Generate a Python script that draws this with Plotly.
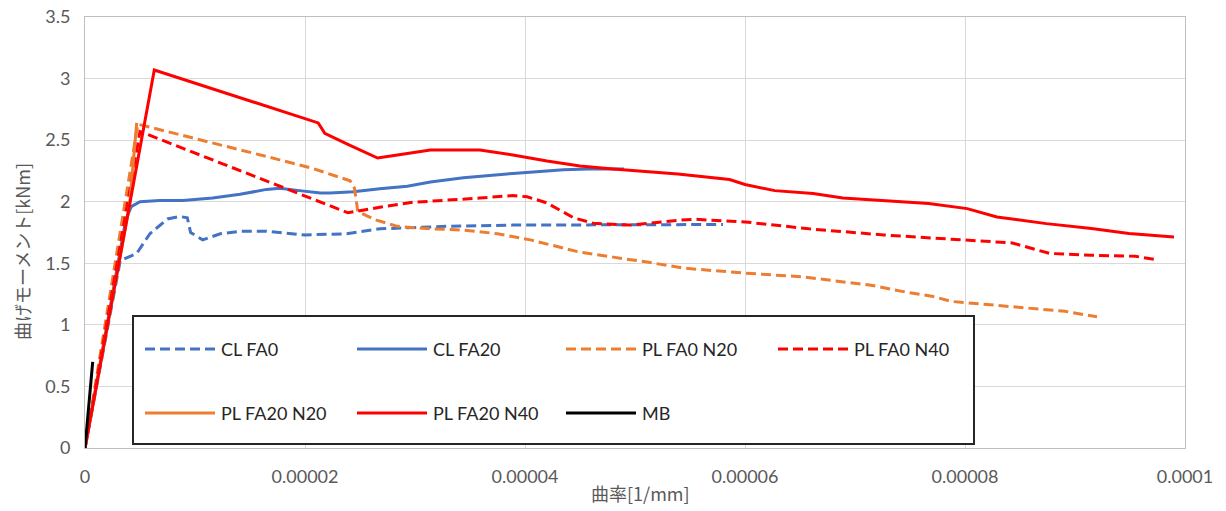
import plotly.graph_objects as go

# ---------------- data ----------------
series_names = ["CL FA0", "CL FA20", "PL FA0 N20", "PL FA0 N40", "PL FA20 N20", "PL FA20 N40", "MB"]

cl_fa0_x = [0, 3.2e-6, 4.7e-6, 5.9e-6, 7.5e-6, 8.6e-6, 9.3e-6, 9.6e-6, 1.07e-5, 1.23e-5, 1.41e-5,
            1.65e-5, 2.0e-5, 2.38e-5, 2.68e-5, 2.98e-5, 3.29e-5, 3.89e-5, 5.41e-5, 5.8e-5]
cl_fa0_y = [0, 1.52, 1.58, 1.74, 1.86, 1.88, 1.87, 1.75, 1.69, 1.74, 1.76,
            1.76, 1.73, 1.74, 1.78, 1.79, 1.80, 1.81, 1.81, 1.815]

cl_fa20_x = [0, 3.7e-6, 4.2e-6, 5.0e-6, 6.8e-6, 8.9e-6, 1.16e-5, 1.41e-5, 1.65e-5, 1.77e-5, 1.95e-5,
             2.14e-5, 2.23e-5, 2.44e-5, 2.68e-5, 2.93e-5, 3.14e-5, 3.44e-5, 3.89e-5, 4.35e-5, 4.65e-5, 4.9e-5]
cl_fa20_y = [0, 1.85, 1.96, 2.0, 2.01, 2.01, 2.03, 2.06, 2.1, 2.11, 2.09,
             2.07, 2.07, 2.08, 2.105, 2.125, 2.16, 2.195, 2.23, 2.26, 2.268, 2.265]

pl_fa0_n20_x = [0, 4.8e-6, 1.77e-5, 2.07e-5, 2.41e-5, 2.45e-5, 2.48e-5, 2.65e-5, 2.84e-5, 3.14e-5,
                3.44e-5, 3.75e-5, 4.05e-5, 4.5e-5, 4.8e-5, 5.11e-5, 5.45e-5, 6.0e-5, 6.52e-5, 7.16e-5,
                7.44e-5, 7.71e-5, 7.88e-5, 8.29e-5, 8.64e-5, 8.91e-5, 9.2e-5]
pl_fa0_n20_y = [0, 2.63, 2.34, 2.27, 2.17, 2.11, 1.92, 1.85, 1.80, 1.78,
                1.77, 1.74, 1.69, 1.59, 1.55, 1.51, 1.46, 1.42, 1.39, 1.32,
                1.27, 1.23, 1.19, 1.16, 1.13, 1.11, 1.065]

pl_fa0_n40_x = [0, 5.0e-6, 2.39e-5, 2.68e-5, 2.98e-5, 3.29e-5, 3.59e-5, 3.89e-5, 4.02e-5, 4.2e-5,
                4.44e-5, 4.62e-5, 4.95e-5, 5.41e-5, 5.55e-5, 6.0e-5, 6.58e-5, 7.26e-5, 7.95e-5, 8.43e-5,
                8.77e-5, 9.15e-5, 9.55e-5, 9.73e-5]
pl_fa0_n40_y = [0, 2.57, 1.91, 1.955, 1.995, 2.01, 2.03, 2.05, 2.04, 1.99,
                1.87, 1.825, 1.81, 1.85, 1.857, 1.836, 1.78, 1.73, 1.69, 1.665,
                1.58, 1.565, 1.557, 1.53]

pl_fa20_n20_x = [0, 4.05e-6, 4.7e-6]
pl_fa20_n20_y = [0, 1.97, 2.64]

pl_fa20_n40_x = [0, 6.3e-6, 2.12e-5, 2.18e-5, 2.38e-5, 2.66e-5, 2.84e-5, 3.14e-5, 3.59e-5, 3.89e-5,
                 4.2e-5, 4.5e-5, 4.8e-5, 5.05e-5, 5.39e-5, 5.86e-5, 6.0e-5, 6.27e-5, 6.62e-5, 6.89e-5,
                 7.67e-5, 8.02e-5, 8.29e-5, 8.74e-5, 9.15e-5, 9.49e-5, 9.9e-5]
pl_fa20_n40_y = [0, 3.07, 2.64, 2.555, 2.47, 2.355, 2.38, 2.42, 2.42, 2.38,
                 2.33, 2.29, 2.265, 2.25, 2.225, 2.18, 2.14, 2.09, 2.066, 2.03,
                 1.985, 1.944, 1.876, 1.822, 1.782, 1.741, 1.714]

mb_x = [0, 7e-7]
mb_y = [0, 0.70]

x_tickvals = [0, 0.00002, 0.00004, 0.00006, 0.00008, 0.0001]
x_ticktext = ["0", "0.00002", "0.00004", "0.00006", "0.00008", "0.0001"]
y_tickvals = [0, 0.5, 1, 1.5, 2, 2.5, 3, 3.5]
y_ticktext = ["0", "0.5", "1", "1.5", "2", "2.5", "3", "3.5"]

x_title = "曲率[1/mm]"
y_title = "曲げモーメント[kNm]"

# ---------------- styles ----------------
BLUE = "#4472C4"
ORANGE = "#ED7D31"
RED = "#FF0000"
BLACK = "#000000"
DASH = "10px,5px"

data = [
    (cl_fa0_x, cl_fa0_y, BLUE, DASH),
    (cl_fa20_x, cl_fa20_y, BLUE, "solid"),
    (pl_fa0_n20_x, pl_fa0_n20_y, ORANGE, DASH),
    (pl_fa0_n40_x, pl_fa0_n40_y, RED, DASH),
    (pl_fa20_n20_x, pl_fa20_n20_y, ORANGE, "solid"),
    (pl_fa20_n40_x, pl_fa20_n40_y, RED, "solid"),
    (mb_x, mb_y, BLACK, "solid"),
]

fig = go.Figure()
for name, (xs, ys, col, dash) in zip(series_names, data):
    fig.add_trace(go.Scatter(x=xs, y=ys, mode="lines", name=name,
                             line=dict(color=col, width=3, dash=dash),
                             showlegend=False))

# plot area in screen pixels
L, R, T, B = 85, 1185, 17, 448
W, H = 1226, 511


def px(x):
    return (x - L) / (R - L)


def py(y):
    return (B - y) / (B - T)


TICKFONT = dict(family="Lato, 'Noto Sans', sans-serif", size=18, color="#595959")

fig.update_layout(
    width=W, height=H, autosize=False,
    margin=dict(l=L, r=W - R, t=T, b=H - B, autoexpand=False),
    plot_bgcolor="white", paper_bgcolor="white",
    xaxis=dict(range=[0, 0.0001], tickvals=x_tickvals, ticktext=x_ticktext,
               showgrid=True, gridcolor="#D9D9D9", gridwidth=1,
               showline=True, linecolor="#BFBFBF", linewidth=1, mirror=True,
               zeroline=False, ticks="", tickfont=TICKFONT, ticklabelstandoff=12,
               automargin=False),
    yaxis=dict(range=[0, 3.5], tickvals=y_tickvals, ticktext=y_ticktext,
               showgrid=True, gridcolor="#D9D9D9", gridwidth=1,
               showline=True, linecolor="#BFBFBF", linewidth=1, mirror=True,
               zeroline=False, ticks="", tickfont=TICKFONT, ticklabelstandoff=10,
               automargin=False),
)

# axis titles
fig.add_annotation(text=x_title, xref="paper", yref="paper", x=px(640), y=py(493),
                   xanchor="center", yanchor="middle", showarrow=False,
                   font=dict(family="'Noto Sans CJK JP', Lato, sans-serif", size=18, color="#595959"))
fig.add_annotation(text=y_title, xref="paper", yref="paper", x=px(22), y=py(252),
                   xanchor="center", yanchor="middle", showarrow=False, textangle=-90,
                   font=dict(family="'Noto Sans CJK JP', Lato, sans-serif", size=18, color="#595959"))

# legend box (drawn manually to match original layout)
fig.add_shape(type="rect", xref="paper", yref="paper",
              x0=px(133), x1=px(974), y0=py(444), y1=py(316),
              line=dict(color="#262626", width=2), fillcolor="white", layer="above")

col_x = [145, 357, 566, 778]
row_y = [349, 413]
for i, (name, (xs, ys, col, dash)) in enumerate(zip(series_names, data)):
    r, c = divmod(i, 4)
    x0 = col_x[c]
    y0 = row_y[r]
    fig.add_shape(type="line", xref="paper", yref="paper",
                  x0=px(x0), x1=px(x0 + 70), y0=py(y0), y1=py(y0),
                  line=dict(color=col, width=3, dash=dash), layer="above")
    fig.add_annotation(text=name, xref="paper", yref="paper", x=px(x0 + 74), y=py(y0),
                       xanchor="left", yanchor="middle", showarrow=False,
                       font=dict(family="Lato, 'Noto Sans', sans-serif", size=18, color="#262626"))

# remove the page's default body margin so the figure fills the window exactly
fig.write_html("out.html",
               config={"displayModeBar": False},
               post_script="document.body.style.margin='0px';document.body.style.overflow='hidden';")
